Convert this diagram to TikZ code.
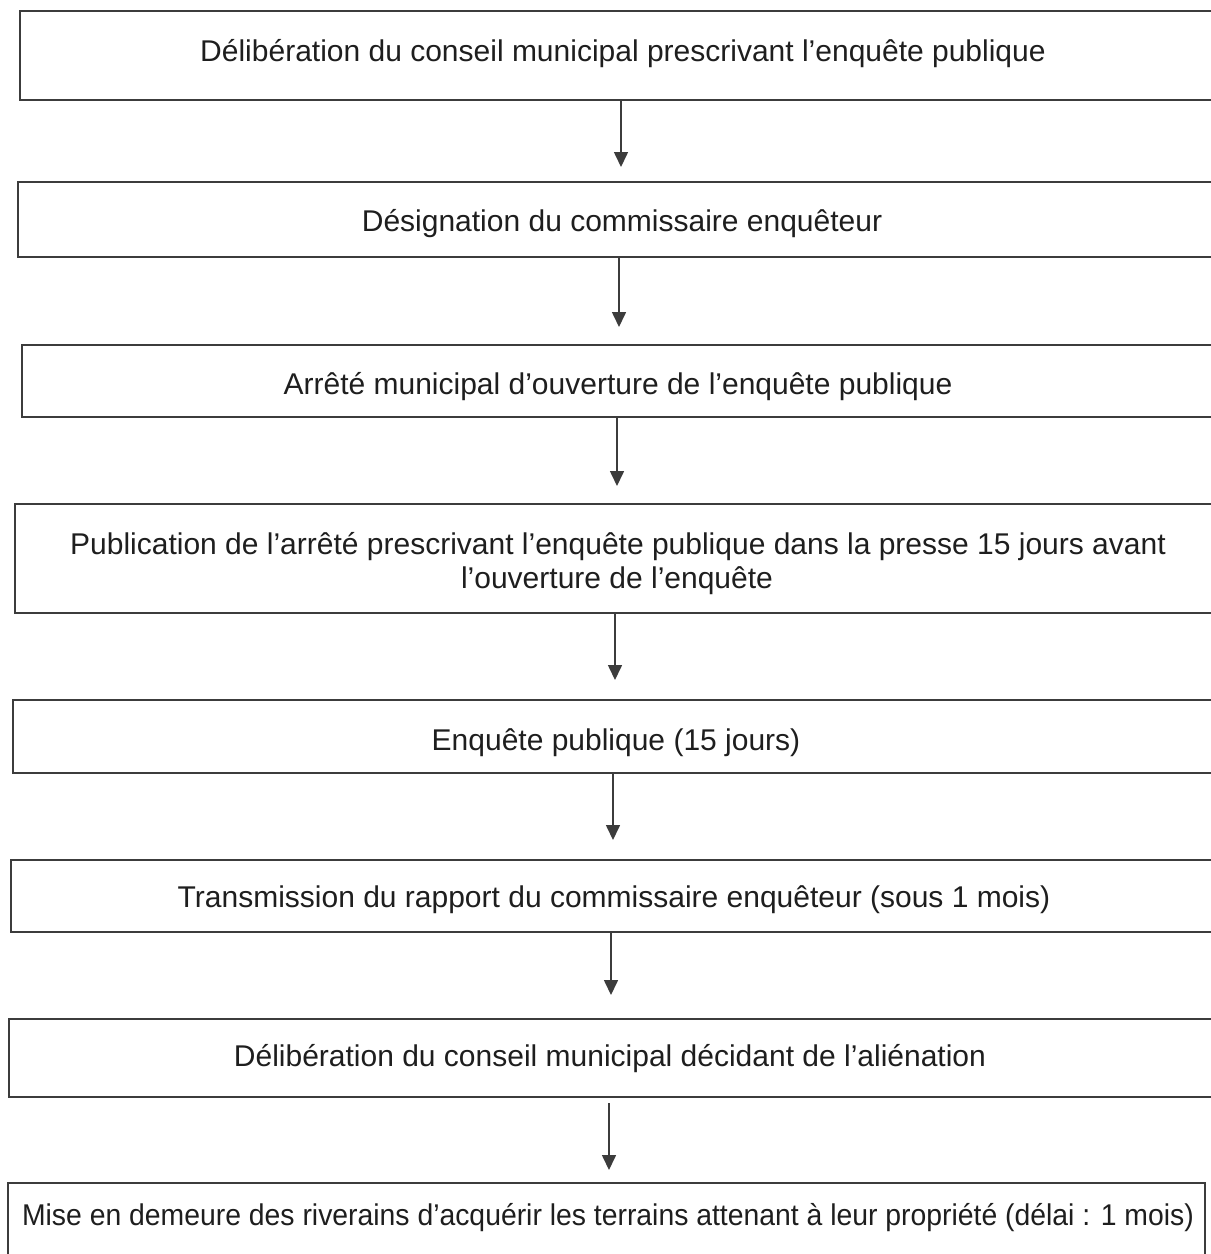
\documentclass[tikz,border=0pt]{standalone}
\usepackage{graphicx}
\usepackage{fontspec}
\setmainfont{Liberation Sans}
\usetikzlibrary{arrows.meta}
\definecolor{ink}{HTML}{1E1E1E}
\definecolor{edge}{HTML}{3C3C3C}
\tikzset{
  box/.style={draw=edge, line width=1.5pt, rectangle, inner sep=0pt},
  lbl/.style={anchor=base, inner sep=0pt, text=ink, font=\fontsize{30}{34}\selectfont, align=center},
  arr/.style={draw=edge, line width=1.6pt, -{Triangle[width=14pt,length=15pt]}}
}
\begin{document}
\begin{tikzpicture}[x=1pt,y=-1pt]
\useasboundingbox (0,0) rectangle (1211,1254);
% boxes
\node[box, minimum width=1195pt, minimum height=89pt] (b1) at (617.5,55.5) {};
\node[box, minimum width=1197pt, minimum height=75pt] (b2) at (616.5,219.5) {};
\node[box, minimum width=1193pt, minimum height=72pt] (b3) at (618.5,381) {};
\node[box, minimum width=1200pt, minimum height=109pt] (b4) at (615,558.5) {};
\node[box, minimum width=1202pt, minimum height=73pt] (b5) at (614,736.5) {};
\node[box, minimum width=1204pt, minimum height=72pt] (b6) at (613,896) {};
\node[box, minimum width=1206pt, minimum height=78pt] (b7) at (612,1058) {};
\node[box, minimum width=1197pt, minimum height=79pt] (b8) at (606.5,1222.5) {};
% texts
\node[lbl] (l1) at (623,61) {Délibération du conseil municipal prescrivant l’enquête publique};
\node[lbl] (l2) at (622,231) {Désignation du commissaire enquêteur};
\node[lbl] (l3) at (618,394) {Arrêté municipal d’ouverture de l’enquête publique};
\node[lbl] (l4a) at (618,554) {Publication de l’arrêté prescrivant l’enquête publique dans la presse 15 jours avant};
\node[lbl] (l4b) at (617,588) {l’ouverture de l’enquête};
\node[lbl] (l5) at (616,750) {Enquête publique (15 jours)};
\node[lbl] (l6) at (614,907) {Transmission du rapport du commissaire enquêteur (sous 1 mois)};
\node[lbl] (l7) at (610,1066) {Délibération du conseil municipal décidant de l’aliénation};
\node[lbl] (l8) at (608,1225) {\scalebox{0.945}[1]{Mise en demeure des riverains d’acquérir les terrains attenant à leur propriété (délai : 1 mois)}};
% arrow tips
\coordinate (t1) at (621,167);
\coordinate (t2) at (619,327);
\coordinate (t3) at (617,486);
\coordinate (t4) at (615,680);
\coordinate (t5) at (613,840);
\coordinate (t6) at (611,995);
\coordinate (t7) at (609,1170);
\coordinate (s7) at (609,1103);
% connectors
\draw[arr] (b1.south -| t1) -- (t1);
\draw[arr] (b2.south -| t2) -- (t2);
\draw[arr] (b3.south -| t3) -- (t3);
\draw[arr] (b4.south -| t4) -- (t4);
\draw[arr] (b5.south -| t5) -- (t5);
\draw[arr] (b6.south -| t6) -- (t6);
\draw[arr] (s7) -- (t7);
\end{tikzpicture}
\end{document}
